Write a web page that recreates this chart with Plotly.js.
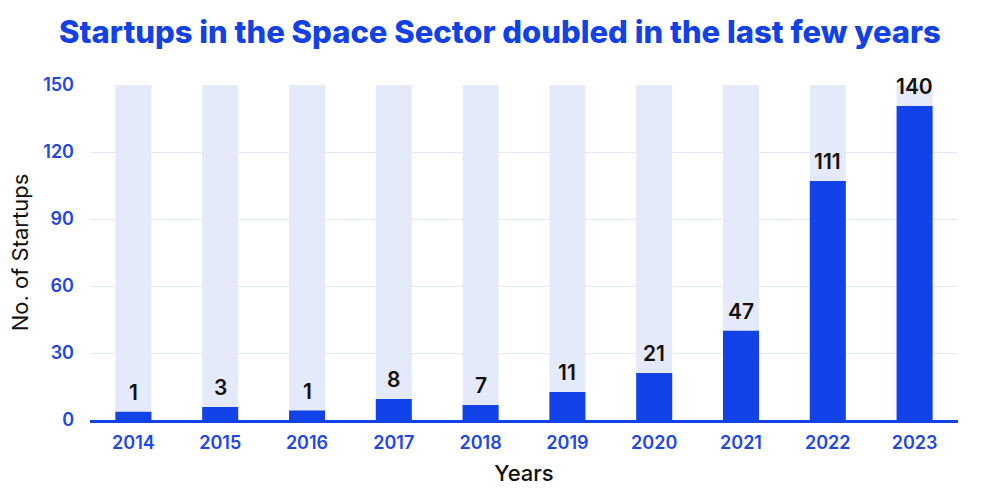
<!DOCTYPE html>
<html>
<head>
<meta charset="utf-8">
<script src="https://cdn.plot.ly/plotly-3.0.1.min.js"></script>
<style>html,body{margin:0;padding:0;background:#fff;}#chart{width:1000px;height:489px;}</style>
</head>
<body>
<div id="chart"></div>
<script>
const years = ["2014","2015","2016","2017","2018","2019","2020","2021","2022","2023"];
const startups = [1, 3, 1, 8, 7, 11, 21, 47, 111, 140];
// bar heights as drawn in the reference picture
const barHeights = [3.7, 5.8, 4.2, 9.4, 6.7, 12.5, 21, 40, 107, 140.6];
const backgroundMax = [150,150,150,150,150,150,150,150,150,150];

const blue = "#1143e8";
const font = "Inter, 'Noto Sans', sans-serif";

const traces = [
  {type:"bar", x: years, y: backgroundMax, marker:{color:"#e5eafa"}, width:0.415, hoverinfo:"skip"},
  {type:"bar", x: years, y: barHeights, marker:{color:blue}, width:0.415}
];

const annotations = years.map((yr, i) => ({
  x: i, y: barHeights[i], text: String(startups[i]),
  showarrow:false, yanchor:"bottom", yshift:5,
  font:{family:font, size:21, color:"#111", weight:600}
}));

const layout = {
  width:1000, height:489,
  margin:{l:90, r:42, t:85, b:69},
  paper_bgcolor:"#fff", plot_bgcolor:"#fff",
  barmode:"overlay", showlegend:false,
  title:{text:"Startups in the Space Sector doubled in the last few years",
    x:0.5, xanchor:"center", y:0.935, yanchor:"middle", yref:"container",
    font:{family:font, size:31, color:"#1241e6", weight:800}},
  xaxis:{type:"category", range:[-0.5, 9.5], showgrid:false, showline:true, linecolor:blue, linewidth:3,
    ticks:"", ticklabelstandoff:4, tickfont:{family:font, size:18, color:"#1f46e6", weight:600},
    title:{text:"Years", font:{family:font, size:22, color:"#111", weight:500}, standoff:15}},
  yaxis:{range:[0,150], tickvals:[0,30,60,90,120,150], showgrid:true, gridcolor:"#e3e8fb",
    gridwidth:1, zeroline:false, showline:false, ticks:"", ticklabelstandoff:15,
    tickfont:{family:font, size:18, color:"#1f46e6", weight:600},
    title:{text:"No. of Startups", font:{family:font, size:22, color:"#111", weight:400}, standoff:8}},
  annotations: annotations
};

Plotly.newPlot("chart", traces, layout, {displayModeBar:false, staticPlot:true});
</script>
</body>
</html>
